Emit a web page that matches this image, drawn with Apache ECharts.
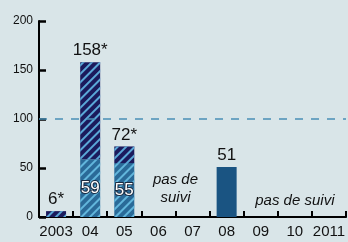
<!DOCTYPE html>
<html>
<head>
<meta charset="utf-8">
<script src="https://cdn.jsdelivr.net/npm/echarts@6/dist/echarts.min.js"></script>
<style>
  html, body { margin: 0; padding: 0; background: #d9e5e8; }
  #chart { width: 348px; height: 242px; }
</style>
</head>
<body>
<div id="chart"></div>
<script>
// années
var years = ['2003', '04', '05', '06', '07', '08', '09', '10', '2011'];
// partie basse (suivie) des barres hachurées
var suivis = [null, 59, 55, null, null, null, null, null, null];
// partie haute hachurée (total - suivis)
var restes = [6, 99, 17, null, null, null, null, null, null];
// barre pleine
var pleins = [null, null, null, null, null, 51, null, null, null];
// étiquettes au-dessus des barres
var totaux = ['6*', '158*', '72*', '', '', '51', '', '', ''];
var yTicks = [0, 50, 100, 150, 200];

var hatch = function (c) {
  return {
    symbol: 'rect',
    symbolSize: 1,
    color: c,
    dashArrayX: [1, 0],
    dashArrayY: [1.5, 3.5],
    rotation: -Math.PI / 4
  };
};

var myChart = echarts.init(document.getElementById('chart'));
myChart.setOption({
  backgroundColor: '#d9e5e8',
  animation: false,
  grid: { left: 39, right: 0, top: 21, bottom: 25 },
  xAxis: {
    type: 'category',
    data: years,
    axisLine: { lineStyle: { color: '#000', width: 2 } },
    axisTick: { show: true, interval: 0, inside: true, length: 6, lineStyle: { color: '#000', width: 2 } },
    axisLabel: { interval: 0, color: '#111', fontSize: 15, fontFamily: 'Liberation Sans', margin: 7 }
  },
  yAxis: {
    type: 'value',
    min: yTicks[0],
    max: yTicks[yTicks.length - 1],
    interval: 50,
    splitLine: { show: false },
    axisLine: { show: true, lineStyle: { color: '#000', width: 2 } },
    axisTick: { show: true, inside: true, length: 7, lineStyle: { color: '#000', width: 2.5 } },
    axisLabel: { color: '#111', fontSize: 12, fontFamily: 'Liberation Sans', margin: 6 }
  },
  series: [
    {
      type: 'bar',
      stack: 'a',
      barWidth: 20,
      data: suivis,
      itemStyle: { color: '#2a6a98', decal: hatch('#62b6dc') },
      label: {
        show: true,
        position: 'inside',
        color: '#fff',
        fontSize: 17,
        fontFamily: 'Liberation Sans',
        textBorderColor: '#1a2a40',
        textBorderWidth: 2
      }
    },
    {
      type: 'bar',
      stack: 'a',
      barWidth: 20,
      data: restes,
      itemStyle: { color: '#1b1a5c', decal: hatch('#5aa8d8') },
      label: {
        show: true,
        position: 'top',
        distance: 3,
        color: '#111',
        fontSize: 17,
        fontFamily: 'Liberation Sans',
        formatter: function (p) { return totaux[p.dataIndex]; }
      }
    },
    {
      type: 'bar',
      stack: 'a',
      barWidth: 20,
      data: pleins,
      itemStyle: { color: '#1a5482' },
      label: {
        show: true,
        position: 'top',
        distance: 3,
        color: '#111',
        fontSize: 17,
        fontFamily: 'Liberation Sans',
        formatter: function (p) { return totaux[p.dataIndex]; }
      }
    },
    {
      // ligne pointillée à 100
      type: 'line',
      data: [],
      markLine: {
        silent: true,
        symbol: 'none',
        label: { show: false },
        lineStyle: { color: '#4a8fb5', width: 1.5, type: [8, 8] },
        data: [{ yAxis: 100 }]
      }
    }
  ]
});

// notes "pas de suivi" placées via les axes
var noteStyle = { fill: '#111', fontSize: 15, fontStyle: 'italic', fontFamily: 'Liberation Sans', align: 'center', verticalAlign: 'middle', lineHeight: 18 };
var a = myChart.convertToPixel({ gridIndex: 0 }, ['06', 29]);
var b = myChart.convertToPixel({ gridIndex: 0 }, ['07', 29]);
var c = myChart.convertToPixel({ gridIndex: 0 }, ['10', 16]);
myChart.setOption({
  graphic: [
    { type: 'text', x: (a[0] + b[0]) / 2, y: a[1], style: Object.assign({ text: 'pas de\nsuivi' }, noteStyle) },
    { type: 'text', x: c[0], y: c[1], style: Object.assign({ text: 'pas de suivi' }, noteStyle) }
  ]
});
</script>
</body>
</html>
